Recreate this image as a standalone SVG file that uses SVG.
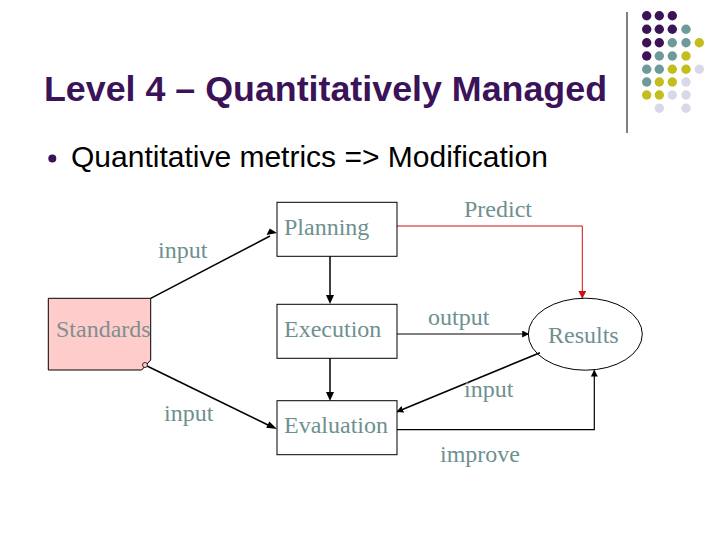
<svg xmlns="http://www.w3.org/2000/svg" width="720" height="540" viewBox="0 0 720 540">
<defs>
<style>
.lbl{font-family:"Liberation Serif","Times New Roman",serif;font-size:24px;fill:#6e9090}
.box{fill:#ffffff;stroke:#000;stroke-width:1}
.ln{fill:none;stroke:#000;stroke-width:1.5}
.p{fill:#3b1358}.t{fill:#6f9a9c}.y{fill:#c4bd1e}.l{fill:#d8d8e8}
</style>
<marker id="ah" viewBox="0 0 10 10" refX="9" refY="5" markerWidth="7" markerHeight="7" orient="auto" markerUnits="userSpaceOnUse">
<path d="M0,0 L10,5 L0,10 z" fill="#000"/>
</marker>
<marker id="ahr" viewBox="0 0 10 10" refX="9" refY="5" markerWidth="8" markerHeight="8" orient="auto" markerUnits="userSpaceOnUse">
<path d="M0,0 L10,5 L0,10 z" fill="#cc1111"/>
</marker>
</defs>
<rect width="720" height="540" fill="#ffffff"/>
<g id="decor">
<line x1="627" y1="12" x2="627" y2="133" stroke="#000" stroke-width="1"/>
<g>
<circle class="p" cx="646.7" cy="15.7" r="4.7"/><circle class="p" cx="659.3" cy="15.7" r="4.7"/><circle class="p" cx="672.3" cy="15.7" r="4.7"/>
<circle class="p" cx="646.7" cy="29.3" r="4.7"/><circle class="p" cx="659.3" cy="29.3" r="4.7"/><circle class="p" cx="672.3" cy="29.3" r="4.7"/><circle class="t" cx="686" cy="29.3" r="4.7"/>
<circle class="p" cx="646.7" cy="42.7" r="4.7"/><circle class="p" cx="659.3" cy="42.7" r="4.7"/><circle class="t" cx="672.3" cy="42.7" r="4.7"/><circle class="t" cx="686" cy="42.7" r="4.7"/><circle class="y" cx="699.3" cy="42.7" r="4.7"/>
<circle class="p" cx="646.7" cy="56" r="4.7"/><circle class="t" cx="659.3" cy="56" r="4.7"/><circle class="t" cx="672.3" cy="56" r="4.7"/><circle class="y" cx="686" cy="56" r="4.7"/>
<circle class="t" cx="646.7" cy="69.3" r="4.7"/><circle class="t" cx="659.3" cy="69.3" r="4.7"/><circle class="y" cx="672.3" cy="69.3" r="4.7"/><circle class="y" cx="686" cy="69.3" r="4.7"/><circle class="l" cx="699.3" cy="69.3" r="4.7"/>
<circle class="t" cx="646.7" cy="82" r="4.7"/><circle class="y" cx="659.3" cy="82" r="4.7"/><circle class="y" cx="672.3" cy="82" r="4.7"/><circle class="l" cx="686" cy="82" r="4.7"/>
<circle class="y" cx="646.7" cy="95" r="4.7"/><circle class="y" cx="659.3" cy="95" r="4.7"/><circle class="l" cx="672.3" cy="95" r="4.7"/><circle class="l" cx="686" cy="95" r="4.7"/>
<circle class="l" cx="659.3" cy="108.3" r="4.7"/><circle class="l" cx="686" cy="108.3" r="4.7"/>
</g>
</g>
<g id="title">
<text x="44" y="101" font-family="Liberation Sans, Arial, sans-serif" font-size="35.8" font-weight="bold" fill="#3b1358">Level 4 – Quantitatively Managed</text>
</g>
<g id="bullet">
<circle cx="52.3" cy="158.5" r="4" fill="#3b1358"/>
<text x="71" y="167" font-family="Liberation Sans, Arial, sans-serif" font-size="30" fill="#000">Quantitative metrics =&gt; Modification</text>
</g>
<g id="connectors">
<line class="ln" x1="150.7" y1="298.3" x2="270" y2="236"/>
<line class="ln" x1="145" y1="365" x2="270" y2="426"/>
<line class="ln" x1="330" y1="256" x2="330" y2="296"/>
<line class="ln" x1="330" y1="358" x2="330" y2="393"/>
<polyline points="397,226 582.3,226 582.3,298" fill="none" stroke="#cc1111" stroke-width="1" marker-end="url(#ahr)"/>
<line class="ln" x1="397" y1="334" x2="528.5" y2="334" style="stroke-width:1" marker-end="url(#ah)"/>
<line class="ln" x1="540" y1="352.7" x2="397" y2="411.7" marker-end="url(#ah)"/>
<polyline points="397,429.7 594.3,429.7 594.3,370.3" fill="none" stroke="#000" stroke-width="1.2" marker-end="url(#ah)"/>
<polygon points="277,233 266.5,235 269.8,228.6" fill="#000"/>
<polygon points="277,429 266.2,427.8 269.4,421.4" fill="#000"/>
<polygon points="330,304 326,295 334,295" fill="#000"/>
<polygon points="330,401 326,392 334,392" fill="#000"/>
</g>
<g id="standards">
<path d="M48.3,298.3 L150.7,298.3 L150.7,360 L141.7,370 L48.3,370 z" fill="#ffcccc" stroke="#000" stroke-width="1"/>
<circle cx="145" cy="365" r="2.5" fill="#ffcccc" stroke="#000" stroke-width="0.8"/>
<text class="lbl" x="56" y="337" style="fill:#808f8f">Standards</text>
</g>
<g id="planning">
<rect class="box" x="277" y="202.3" width="120" height="54"/>
<text class="lbl" x="284" y="235">Planning</text>
</g>
<g id="execution">
<rect class="box" x="277" y="304.3" width="120" height="54"/>
<text class="lbl" x="284" y="337">Execution</text>
</g>
<g id="evaluation">
<rect class="box" x="277" y="400.7" width="120" height="54"/>
<text class="lbl" x="284" y="433">Evaluation</text>
</g>
<g id="results">
<ellipse cx="585.3" cy="334.2" rx="57" ry="36" fill="none" stroke="#000" stroke-width="1"/>
<text class="lbl" x="548" y="343">Results</text>
</g>
<g id="labels">
<text class="lbl" x="158" y="258">input</text>
<text class="lbl" x="164" y="421">input</text>
<text class="lbl" x="464" y="217">Predict</text>
<text class="lbl" x="428" y="325">output</text>
<text class="lbl" x="464" y="397">input</text>
<text class="lbl" x="440" y="462">improve</text>
</g>
</svg>
